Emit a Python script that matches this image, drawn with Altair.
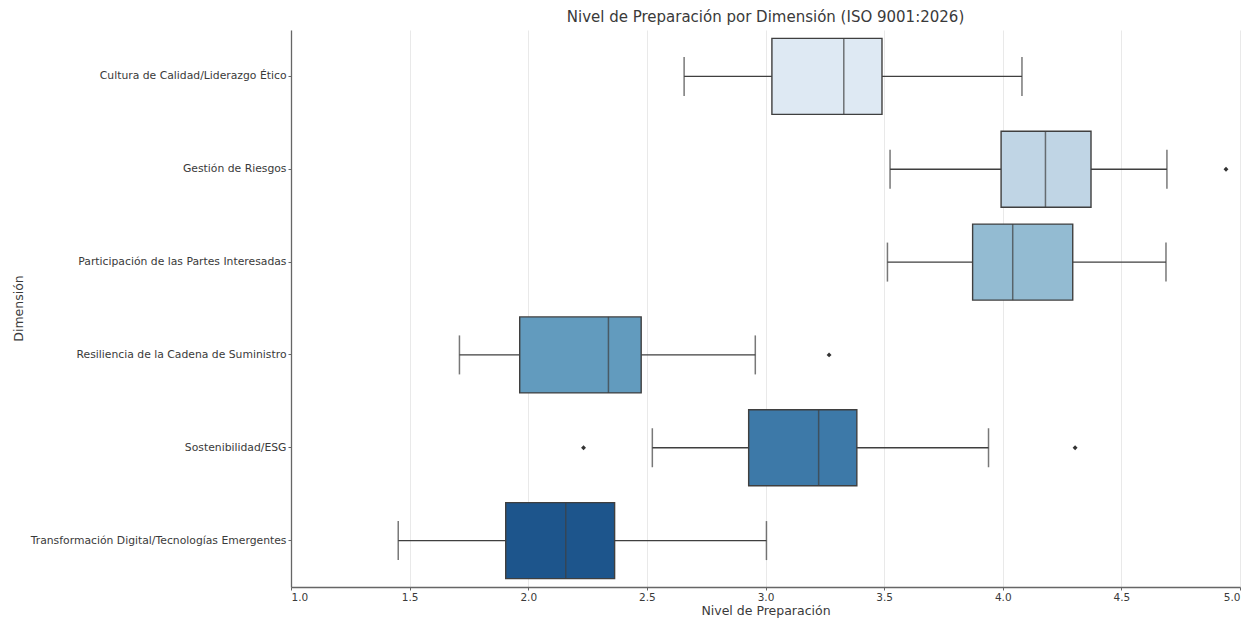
import colorsys
import altair as alt
import pandas as pd

dims = [
    "Cultura de Calidad/Liderazgo Ético",
    "Gestión de Riesgos",
    "Participación de las Partes Interesadas",
    "Resiliencia de la Cadena de Suministro",
    "Sostenibilidad/ESG",
    "Transformación Digital/Tecnologías Emergentes",
]
whisker_low = [2.657, 3.525, 3.514, 1.710, 2.523, 1.452]
q1 = [3.027, 3.993, 3.873, 1.964, 2.929, 1.905]
median = [3.330, 4.180, 4.042, 2.338, 3.224, 2.158]
q3 = [3.491, 4.372, 4.295, 2.476, 3.385, 2.364]
whisker_high = [4.081, 4.692, 4.688, 2.957, 3.940, 3.004]

outlier_dim = [
    "Gestión de Riesgos",
    "Resiliencia de la Cadena de Suministro",
    "Sostenibilidad/ESG",
    "Sostenibilidad/ESG",
]
outlier_val = [4.941, 3.268, 2.233, 4.305]

base_palette = ["#dbe9f6", "#bad6eb", "#89bedc", "#539ecd", "#2b7bba", "#0b559f"]


def desat(hexc, s=0.75):
    r, g, b = (int(hexc[i:i + 2], 16) / 255 for i in (1, 3, 5))
    h, l, sat = colorsys.rgb_to_hls(r, g, b)
    r, g, b = colorsys.hls_to_rgb(h, l, sat * s)
    return "#%02x%02x%02x" % (round(r * 255), round(g * 255), round(b * 255))


palette = [desat(c) for c in base_palette]

df = pd.DataFrame({
    "dim": dims,
    "low": whisker_low,
    "q1": q1,
    "med": median,
    "q3": q3,
    "high": whisker_high,
})
out_df = pd.DataFrame({"dim": outlier_dim, "val": outlier_val})

line_col = "#3f3f3f"
text_col = "#3a3a3a"

xscale = alt.Scale(domain=[1.0, 5.0], nice=False, zero=False)
yscale = alt.Scale(domain=dims, paddingInner=0, paddingOuter=0)

x_axis = alt.Axis(
    values=[1.0, 1.5, 2.0, 2.5, 3.0, 3.5, 4.0, 4.5, 5.0],
    format=".1f",
    grid=True,
    gridColor="#e3e3e3",
    gridWidth=0.8,
    domainColor="#666666",
    domainWidth=1.3,
    tickColor="#666666",
    tickSize=3,
    labelFontSize=10.5,
    labelColor=text_col,
    labelPadding=2,
    titleFontSize=12.5,
    titleFontWeight="normal",
    titleColor=text_col,
    titlePadding=2,
)
y_axis = alt.Axis(
    grid=False,
    domainColor="#666666",
    domainWidth=1.3,
    tickColor="#666666",
    tickSize=3,
    labelFontSize=10.8,
    labelColor=text_col,
    labelPadding=2,
    labelLimit=400,
    titleFontSize=12.5,
    titleFontWeight="normal",
    titleColor=text_col,
    titleX=-273,
    titleY=278,
    titleAngle=270,
    titleAlign="center",
    titleBaseline="middle",
)


def X(field):
    return alt.X(field, scale=xscale, axis=x_axis, title="Nivel de Preparación")


Y = alt.Y("dim:N", scale=yscale, axis=y_axis, sort=dims, title="Dimensión")

whisk = alt.Chart(df).mark_rule(color=line_col, strokeWidth=1.4).encode(
    x=X("low:Q"), x2="high:Q", y=Y
)
caps_lo = alt.Chart(df).mark_tick(color=line_col, size=39, thickness=1.5).encode(
    x=X("low:Q"), y=Y
)
caps_hi = alt.Chart(df).mark_tick(color=line_col, size=39, thickness=1.5).encode(
    x=X("high:Q"), y=Y
)
box = alt.Chart(df).mark_bar(size=76, stroke=line_col, strokeWidth=1.4).encode(
    x=X("q1:Q"),
    x2="q3:Q",
    y=Y,
    color=alt.Color("dim:N", scale=alt.Scale(domain=dims, range=palette), legend=None),
)
med = alt.Chart(df).mark_tick(color=line_col, size=76, thickness=1.5).encode(
    x=X("med:Q"), y=Y
)
fliers = alt.Chart(out_df).mark_point(
    shape="diamond", filled=True, color="#333333", size=24, opacity=1
).encode(x=X("val:Q"), y=Y)

chart = (
    alt.layer(whisk, caps_lo, caps_hi, box, med, fliers)
    .properties(
        width=949,
        height=557,
        title=alt.TitleParams(
            "Nivel de Preparación por Dimensión (ISO 9001:2026)",
            fontSize=15,
            fontWeight="normal",
            color=text_col,
            offset=5,
        ),
        autosize=alt.AutoSizeParams(type="none"),
        padding={"left": 283, "top": 22, "right": 5, "bottom": 34},
    )
    .configure(font="DejaVu Sans", background="white")
    .configure_view(stroke=None)
)

chart.save("out.html", embed_options={"renderer": "svg", "actions": False})
